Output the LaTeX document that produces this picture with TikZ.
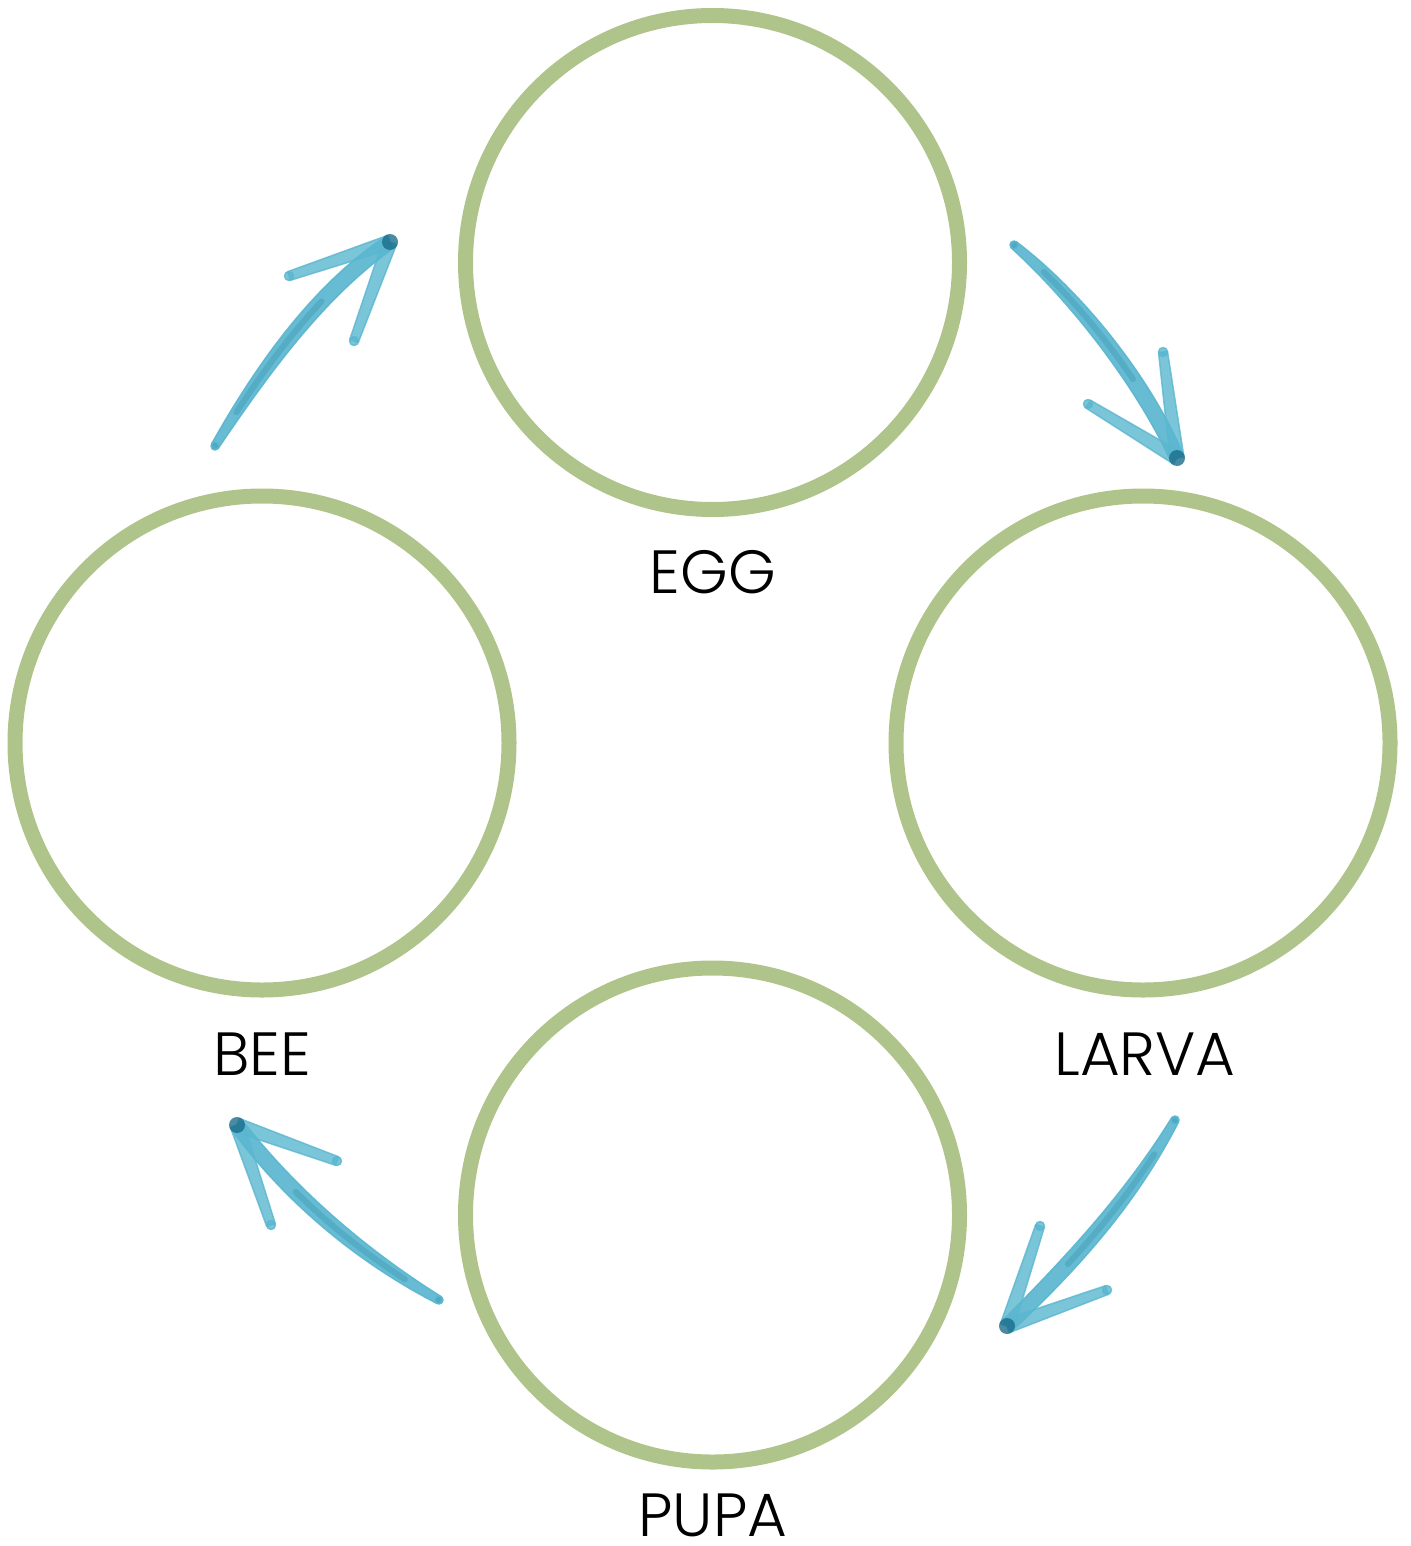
\documentclass[tikz,border=0pt]{standalone}
\usepackage{fontspec}
\setmainfont{Poppins Light}
\usetikzlibrary{calc}
\definecolor{ringgreen}{HTML}{AFC48B}
\definecolor{brushlight}{HTML}{5AB6CF}
\definecolor{brushdark}{HTML}{2A86A6}
\definecolor{brushtip}{HTML}{1A6E8B}
\tikzset{
  stage/.style={circle, draw=ringgreen, line width=15pt, minimum size=494pt, inner sep=0pt},
  lab/.style={anchor=base, inner sep=0pt, font=\fontsize{61}{72}\selectfont, text=black},
  brushfill/.style={fill=brushlight, draw=brushlight, line width=1.5pt, line join=round, opacity=0.92},
  headfill/.style={fill=brushlight, draw=brushlight, line width=1.5pt, line join=round, opacity=0.8},
  shaftcore/.style={draw=brushdark, line width=6pt, line cap=round, opacity=0.28, dash pattern=on 0pt off 40pt on 140pt off 2000pt},
  tipblob/.style={fill=brushtip, opacity=0.8}
}
% #1 start, #2 control 1, #3 control 2, #4 tip
\newcommand\brushshaft[4]{%
  \fill[brushfill] ($(#1)!4pt!90:(#2)$)
    .. controls ($(#2)!8pt!90:(#3)$) and ($(#3)!8.5pt!90:(#4)$) .. ($(#4)!7pt!-90:(#3)$)
    -- ($(#4)!7pt!90:(#3)$)
    .. controls ($(#3)!8.5pt!-90:(#4)$) and ($(#2)!8pt!-90:(#3)$) .. ($(#1)!4pt!-90:(#2)$) -- cycle;
  \fill[brushfill] (#1) circle (4pt);
  \draw[shaftcore] (#1) .. controls (#2) and (#3) .. (#4);
}
% #1 free end, #2 tip
\newcommand\brushhead[2]{%
  \fill[headfill] ($(#1)!4.5pt!90:(#2)$) -- ($(#2)!7pt!-90:(#1)$) -- ($(#2)!7pt!90:(#1)$) -- ($(#1)!4.5pt!-90:(#2)$) -- cycle;
  \fill[headfill] (#1) circle (4.5pt);
}
\begin{document}
\begin{tikzpicture}[x=1pt,y=-1pt]
\useasboundingbox (0,0) rectangle (1410,1546);
% stages
\node[stage] (egg)   at (712.5,262.5) {};
\node[stage] (larva) at (1143,743) {};
\node[stage] (bee)   at (262,743) {};
\node[stage] (pupa)  at (712.5,1215) {};
% labels
\node[lab] (eggl)   at (713,593) {EGG};
\node[lab] (larval) at (1145,1075) {LARVA};
\node[lab] (beel)   at (262,1075) {BEE};
\node[lab] (pupal)  at (713,1536) {PUPA};
% arrow coordinates
\coordinate (a1s) at (215,446);
\coordinate (a1c1) at (265,365);
\coordinate (a1c2) at (320,290);
\coordinate (a1t) at (390,242);
\coordinate (a1h1) at (289,276);
\coordinate (a1h2) at (354,341);
\coordinate (a2s) at (1014,245);
\coordinate (a2c1) at (1080,300);
\coordinate (a2c2) at (1145,385);
\coordinate (a2t) at (1177,458);
\coordinate (a2h1) at (1088,404);
\coordinate (a2h2) at (1163,352);
\coordinate (a3s) at (1175,1120);
\coordinate (a3c1) at (1130,1200);
\coordinate (a3c2) at (1070,1265);
\coordinate (a3t) at (1007,1326);
\coordinate (a3h1) at (1040,1226);
\coordinate (a3h2) at (1107,1290);
\coordinate (a4s) at (439,1300);
\coordinate (a4c1) at (360,1255);
\coordinate (a4c2) at (290,1195);
\coordinate (a4t) at (237,1125);
\coordinate (a4h1) at (271,1225);
\coordinate (a4h2) at (337,1161);
% arrow 1: bee -> egg
\brushshaft{a1s}{a1c1}{a1c2}{a1t}
\brushhead{a1h1}{a1t}
\brushhead{a1h2}{a1t}
\fill[tipblob] (a1t) circle (8pt);
% arrow 2: egg -> larva
\brushshaft{a2s}{a2c1}{a2c2}{a2t}
\brushhead{a2h1}{a2t}
\brushhead{a2h2}{a2t}
\fill[tipblob] (a2t) circle (8pt);
% arrow 3: larva -> pupa
\brushshaft{a3s}{a3c1}{a3c2}{a3t}
\brushhead{a3h1}{a3t}
\brushhead{a3h2}{a3t}
\fill[tipblob] (a3t) circle (8pt);
% arrow 4: pupa -> bee
\brushshaft{a4s}{a4c1}{a4c2}{a4t}
\brushhead{a4h1}{a4t}
\brushhead{a4h2}{a4t}
\fill[tipblob] (a4t) circle (8pt);
\end{tikzpicture}
\end{document}
